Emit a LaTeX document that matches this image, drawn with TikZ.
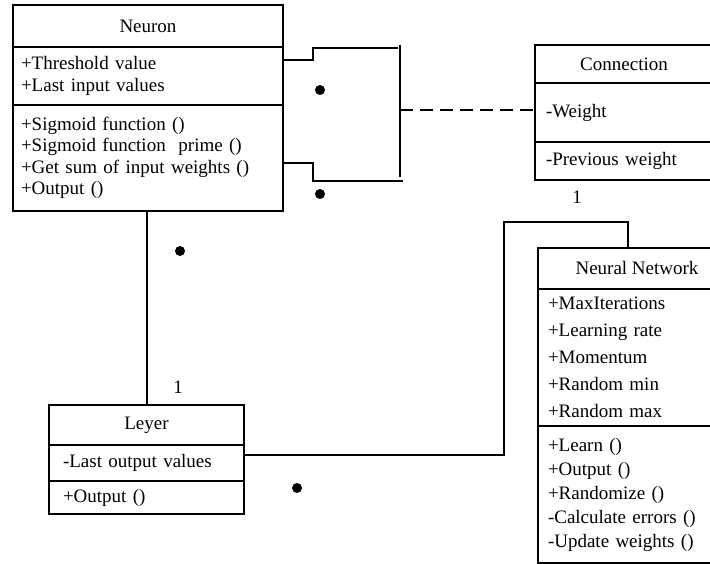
\documentclass[tikz,border=0pt]{standalone}
\usepackage{fontspec}
\setmainfont{Liberation Serif}
\usetikzlibrary{positioning}

\tikzset{
  head/.style={rectangle, draw, line width=2.5pt, outer sep=0pt, align=center, font=\fontsize{19pt}{21.5pt}\selectfont},
  body/.style={rectangle, draw, line width=2.5pt, outer sep=0pt, inner ysep=0pt, align=left, font=\fontsize{19pt}{21.5pt}\selectfont},
  link/.style={line width=2.5pt},
  blob/.style={circle, fill, inner sep=0pt, minimum size=10pt}
}

\begin{document}
\begin{tikzpicture}[x=1pt, y=-1pt]
    \clip (0,0) rectangle (710,564);

    % Neuron class
    \node (neuron) [head, minimum width=270pt, minimum height=42pt, anchor=north west] at (13,5) {Neuron};
    \node (neuronattr) [body, text width=254pt, inner xsep=8pt, minimum height=58pt, below=0pt of neuron] {+Threshold value\\+Last input values};
    \node (neuronops) [body, text width=254pt, inner xsep=8pt, minimum height=106pt, below=0pt of neuronattr] {+Sigmoid function ()\\+Sigmoid function\ \ prime ()\\+Get sum of input weights ()\\+Output ()};

    % Connection class
    \node (conn) [head, minimum width=178pt, minimum height=38pt, anchor=north west] at (535,45) {Connection};
    \node (connattr) [body, text width=156pt, inner xsep=11pt, minimum height=59pt, below=0pt of conn] {-Weight};
    \node (connops) [body, text width=156pt, inner xsep=11pt, minimum height=38pt, below=0pt of connattr] {-Previous weight};

    % Layer class
    \node (leyer) [head, minimum width=195pt, minimum height=40pt, anchor=north west] at (49,405) {Leyer};
    \node (leyerattr) [body, text width=167pt, inner xsep=14pt, minimum height=36pt, below=0pt of leyer] {-Last output values};
    \node (leyerops) [body, text width=167pt, inner xsep=14pt, minimum height=33pt, below=0pt of leyerattr] {+Output ()};

    % Neural network class
    \node (nn) [head, minimum width=198pt, minimum height=41pt, anchor=north west] at (538,248) {Neural Network};
    \node (nnattr) [body, text width=178pt, inner xsep=10pt, minimum height=137pt, below=0pt of nn, font=\fontsize{19pt}{27pt}\selectfont] {+MaxIterations\\+Learning rate\\+Momentum\\+Random min\\+Random max};
    \node (nnops) [body, text width=178pt, inner xsep=10pt, minimum height=137pt, below=0pt of nnattr, font=\fontsize{19pt}{24pt}\selectfont] {+Learn ()\\+Output ()\\+Randomize ()\\-Calculate errors ()\\-Update weights ()};

    % helper points
    \coordinate (uplevel) at (0,60);
    \coordinate (lowlevel) at (0,163);
    \coordinate (bartop) at (400,45);
    \coordinate (barbot) at (400,177);
    \coordinate (barmid) at (400,110);
    \coordinate (stem) at (147,0);
    \coordinate (netlevel) at (0,455);
    \coordinate (drop) at (628,0);

    % connectors
    \draw[link] (neuronattr.east |- uplevel) -| (313,48) -- (398,48);
    \draw[link] (neuronops.east |- lowlevel) -| (313,181) -- (403,181);
    \draw[link] (bartop) -- (barbot);
    \draw[link, dash pattern=on 13pt off 7pt] (barmid) -- (barmid -| connattr.west);
    \draw[link] (neuronops.south -| stem) -- (leyer.north -| stem);
    \draw[link] (leyerattr.east |- netlevel) -| (504,222) -| (nn.north -| drop);

    % multiplicities
    \node (onea) [font=\fontsize{19pt}{21pt}\selectfont] at (577,197) {1};
    \node (oneb) [font=\fontsize{19pt}{21pt}\selectfont] at (178,387) {1};
    \node (dota) [blob] at (320,90) {};
    \node (dotb) [blob] at (320,194) {};
    \node (dotc) [blob] at (180,251) {};
    \node (dotd) [blob] at (297,488) {};
\end{tikzpicture}
\end{document}
